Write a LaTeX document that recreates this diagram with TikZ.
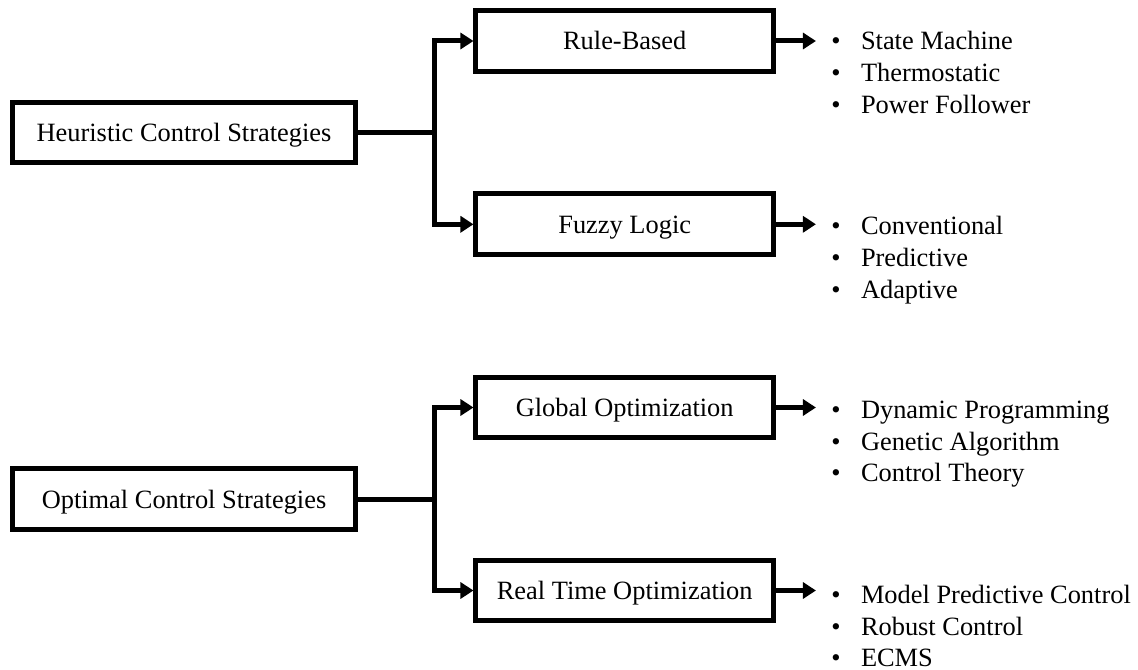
\documentclass[tikz,border=0pt]{standalone}
\usepackage{fontspec}
\setmainfont{Liberation Serif}
\usetikzlibrary{arrows.meta}
\newcommand\itembul{\makebox[22.3pt][l]{•}}
\begin{document}
\begin{tikzpicture}[x=0.75pt,y=-0.75pt,
  box/.style={draw, line width=3.75pt, minimum height=45.5pt, inner sep=0pt,
    text height=17.64pt, text depth=4.28pt, font=\fontsize{19.8}{24}\selectfont},
  bigbox/.style={box, minimum width=257.25pt},
  smallbox/.style={box, minimum width=223.1pt},
  conn/.style={line width=3.75pt},
  arr/.style={conn, -{Triangle[length=9.75pt,width=12pt]}},
  listitem/.style={anchor=base west, inner sep=0pt, font=\fontsize{19.8}{24}\selectfont}]
\useasboundingbox (0,0) rectangle (1138,670);

% top group
\node[bigbox] (heur) at (184,132.5) {Heuristic Control Strategies};
\node[smallbox] (rb) at (624.7,41) {Rule-Based};
\node[smallbox] (fl) at (624.7,224.3) {Fuzzy Logic};
\coordinate (hb) at (434.5,132.5);
\draw[conn] (heur.east) -- (hb);
\draw[arr] (hb) |- (rb.west);
\draw[arr] (hb) |- (fl.west);
\path (rb.east) ++(40,0) coordinate (rbe);
\path (fl.east) ++(40,0) coordinate (fle);
\draw[arr] (rb.east) -- (rbe);
\draw[arr] (fl.east) -- (fle);

\node[listitem] (r1) at (831,50) {\itembul State Machine};
\node[listitem] (r2) at (831,82) {\itembul Thermostatic};
\node[listitem] (r3) at (831,114) {\itembul Power Follower};
\node[listitem] (f1) at (831,235) {\itembul Conventional};
\node[listitem] (f2) at (831,267) {\itembul Predictive};
\node[listitem] (f3) at (831,298.5) {\itembul Adaptive};

% bottom group
\node[bigbox] (opt) at (184,499.2) {Optimal Control Strategies};
\node[smallbox] (go) at (624.7,407.5) {Global Optimization};
\node[smallbox] (rt) at (624.7,590.5) {Real Time Optimization};
\coordinate (ob) at (434.5,499.2);
\draw[conn] (opt.east) -- (ob);
\draw[arr] (ob) |- (go.west);
\draw[arr] (ob) |- (rt.west);
\path (go.east) ++(40,0) coordinate (goe);
\path (rt.east) ++(40,0) coordinate (rte);
\draw[arr] (go.east) -- (goe);
\draw[arr] (rt.east) -- (rte);

\node[listitem] (g1) at (831,418.3) {\itembul Dynamic Programming};
\node[listitem] (g2) at (831,450) {\itembul Genetic Algorithm};
\node[listitem] (g3) at (831,481.7) {\itembul Control Theory};
\node[listitem] (m1) at (831,603.3) {\itembul Model Predictive Control};
\node[listitem] (m2) at (831,635) {\itembul Robust Control};
\node[listitem] (m3) at (831,666.7) {\itembul ECMS};
\end{tikzpicture}
\end{document}
